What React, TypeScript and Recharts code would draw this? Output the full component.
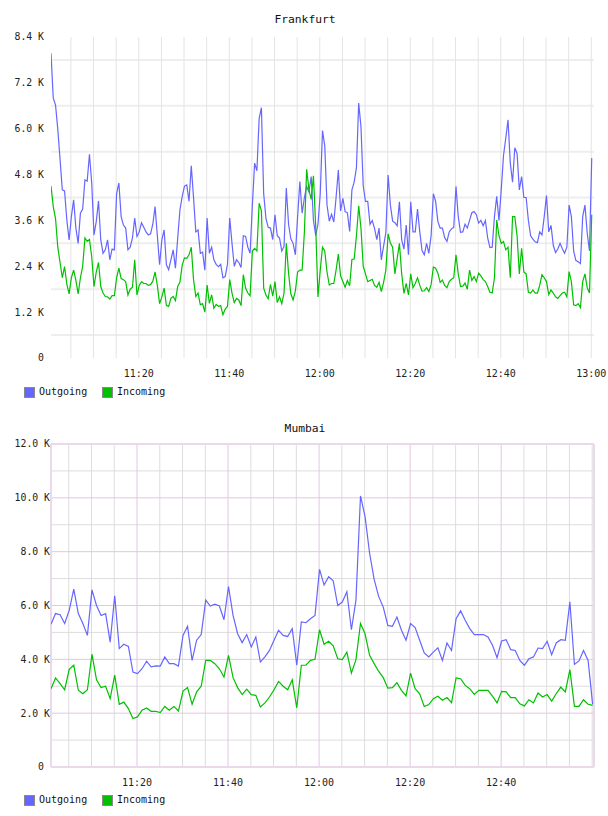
import { LineChart, Line, XAxis, YAxis, CartesianGrid, Legend } from "recharts";

const FONT = '"DejaVu Sans Mono", monospace';
const OUT_COLOR = "#6666ff";
const IN_COLOR = "#00c000";

// minutes after 11:00
const FRA_START = 0.6;
const FRA_STEP = 0.5;

const FRA_OUT = [
  7975, 6800, 6620, 5990, 5200, 4400, 4370, 3610, 3090, 3700,
  4140, 3400, 3000, 3790, 3900, 4660, 4630, 5330, 4580, 3220,
  3570, 4110, 3090, 2740, 2830, 3090, 2570, 2850, 2830, 4300,
  4580, 3700, 3480, 3400, 2830, 2900, 3140, 3660, 3180, 3300,
  3540, 3420, 3300, 3220, 3250, 3500, 3960, 3200, 2440, 3090,
  3350, 2440, 2310, 2570, 2830, 2350, 3140, 3880, 4230, 4500,
  4530, 4100, 5030, 4200, 3300, 3350, 2740, 2770, 2300, 3660,
  2740, 2900, 2570, 2450, 2390, 2450, 2100, 2130, 2450, 3660,
  3000, 2400, 2570, 2500, 2370, 3200, 3180, 2900, 2740, 4000,
  5100, 4900, 6270, 6550, 4300, 3650, 3420, 3400, 3100, 3750,
  3200, 3140, 2800, 2920, 4450, 3500, 3120, 3000, 2700, 3700,
  4620, 3790, 4200, 4490, 4350, 4750, 3600, 3200, 3500, 4300,
  5950, 5550, 4000, 3580, 3760, 3560, 4200, 4920, 3850, 4180,
  3830, 3800, 3310, 4400, 4600, 4980, 6670, 6060, 4500, 4100,
  4100, 3500, 3600, 3390, 3100, 3400, 2570, 2930, 3280, 4790,
  4000, 3580, 3540, 3460, 4090, 3090, 2850, 3480, 2700, 4090,
  3300, 3300, 3900, 3300, 2810, 2700, 3000, 2740, 3200, 4300,
  4100, 3570, 3400, 3400, 3150, 3050, 3300, 3380, 3420, 4490,
  3700, 3290, 3300, 3500, 3400, 3600, 3800, 3830, 3750, 3530,
  3600, 3460, 3600, 3140, 2890, 2900, 3700, 4230, 3600, 4400,
  5300, 5750, 6230, 5100, 4600, 5500, 5350, 4400, 4750, 4200,
  4200, 3600, 3200, 3110, 3040, 3020, 3300, 3220, 3700, 4250,
  3300, 3470, 2950, 2760, 2850, 3000, 2860, 2740, 2900, 4000,
  3700, 2800, 2550, 2520, 2470, 3700, 4000, 3270, 2800, 5230,
];

const FRA_IN = [
  4500, 3960, 3650, 2900, 2500, 2100, 2390, 1930, 1680, 2100,
  2300, 2030, 1680, 2100, 2400, 3140, 3050, 3100, 2650, 1870,
  2250, 2500, 1870, 1700, 1610, 1600, 1540, 1630, 1630, 2100,
  2350, 2080, 2050, 2000, 1650, 1800, 1850, 2570, 1650, 1900,
  2000, 1950, 1950, 1900, 1920, 2010, 2250, 1900, 1420, 1600,
  1830, 1370, 1350, 1560, 1610, 1500, 1870, 1990, 2430, 2620,
  2610, 2700, 2900, 2050, 1610, 1700, 1390, 1420, 1200, 1910,
  1430, 1650, 1300, 1400, 1350, 1370, 1130, 1280, 1350, 2050,
  1700, 1450, 1560, 1520, 1370, 2180, 1830, 1700, 1630, 2800,
  2870, 2800, 4050, 3850, 1830, 1650, 1550, 1930, 1620, 2000,
  1450, 1600, 1420, 1700, 3000, 2220, 1680, 1520, 1750, 2250,
  2300, 2300, 3300, 4940, 4400, 4150, 4770, 3440, 1600, 2300,
  2900, 2800, 2250, 1910, 1950, 1950, 2300, 2720, 2150, 2000,
  1850, 2030, 1890, 2580, 2590, 3200, 3980, 3400, 2400, 2200,
  2000, 2030, 2060, 1900, 1850, 1980, 1740, 1980, 2300, 3250,
  3010, 2900, 2200, 2600, 3000, 2200, 1690, 1950, 1650, 2200,
  1840, 1950, 2100, 1900, 1750, 1760, 1840, 1740, 1920, 2380,
  2350, 2220, 1980, 2040, 1900, 1840, 2000, 2060, 2100, 2700,
  2200, 1870, 1880, 1960, 1800, 2300, 2030, 2130, 2000, 2220,
  2150, 2050, 2000, 1870, 1720, 1700, 2100, 3610, 3200, 3000,
  3050, 2830, 2900, 2100, 3700, 3700, 3200, 2200, 2870, 2250,
  2200, 1720, 1700, 1780, 1700, 1700, 1900, 2180, 2100, 2000,
  1660, 1780, 1700, 1600, 1560, 1630, 1700, 1720, 1600, 2260,
  2000, 1390, 1370, 1420, 1320, 2000, 2200, 1840, 1700, 3750,
];

const MUM_START = 1.1;
const MUM_STEP = 1;

const MUM_OUT = [
  5300, 5700, 5660, 5330, 5820, 6610, 5700, 5330, 4890, 6580,
  6000, 5630, 5700, 4640, 6360, 4400, 4560, 4480, 3530, 3470,
  3650, 3930, 3720, 3760, 3750, 4090, 3840, 3840, 3750, 4890,
  5230, 3960, 4710, 4920, 6200, 5980, 6050, 5980, 5470, 6700,
  5630, 4950, 4620, 4920, 4460, 4830, 3900, 4090, 4330, 4710,
  5080, 4890, 4850, 5140, 3780, 5390, 5360, 5510, 5630, 7340,
  6760, 7070, 6920, 6000, 6130, 6510, 5100, 6200, 10070, 9300,
  7940, 6970, 6330, 5940, 5260, 5230, 5570, 5080, 4710, 5330,
  5180, 4710, 4240, 4090, 4270, 4430, 3960, 4610, 4330, 5510,
  5800, 5450, 5140, 4920, 4920, 4920, 4830, 4520, 4060, 4680,
  4730, 4360, 4330, 3960, 3780, 4020, 4090, 4420, 4400, 4670,
  4170, 4610, 4730, 4710, 6140, 3810, 3940, 4330, 3960, 2330,
];

const MUM_IN = [
  2910, 3310, 3100, 2870, 3630, 3780, 2850, 2720, 2870, 4190,
  3240, 2950, 3000, 2540, 3410, 2330, 2410, 2170, 1800, 1860,
  2110, 2190, 2070, 2070, 2020, 2250, 2110, 2250, 2080, 2820,
  2950, 2330, 2790, 3000, 3960, 3960, 3840, 3650, 3340, 4150,
  3320, 2950, 2690, 2890, 2690, 2660, 2230, 2380, 2600, 2870,
  3180, 3000, 2870, 3240, 2200, 3780, 3780, 3960, 4000, 5100,
  4560, 4670, 4500, 4020, 3990, 4270, 3490, 3990, 5330, 4950,
  4150, 3840, 3550, 3320, 2930, 2950, 3130, 2850, 2640, 3490,
  2910, 2720, 2250, 2320, 2540, 2630, 2480, 2580, 2390, 3310,
  3280, 3030, 2910, 2700, 2850, 2850, 2850, 2630, 2380, 2810,
  2790, 2580, 2580, 2350, 2270, 2500, 2380, 2750, 2600, 2690,
  2450, 2720, 2970, 2790, 3620, 2250, 2250, 2500, 2330, 2290,
];

const FRA_Y_TICKS = [0, 1200, 2400, 3600, 4800, 6000, 7200, 8400];
const FRA_X_TICKS = [20, 40, 60, 80, 100, 120];
const FRA_H_GRID = [600, 1800, 3000, 4200, 5400, 6600, 7800];
const FRA_V_GRID = [
  5, 10, 15, 20, 25, 30, 35, 40, 45, 50, 55, 60,
  65, 70, 75, 80, 85, 90, 95, 100, 105, 110, 115, 120,
];

const MUM_Y_TICKS = [0, 2000, 4000, 6000, 8000, 10000, 12000];
const MUM_X_TICKS = [20, 40, 60, 80, 100];
const MUM_H_MINOR = [1000, 3000, 5000, 7000, 9000, 11000];
const MUM_H_MAJOR = [2000, 4000, 6000, 8000, 10000];
const MUM_V_MINOR = [
  5, 10, 15, 25, 30, 35, 45, 50, 55, 65, 70, 75,
  85, 90, 95, 105, 110, 115, 120,
];
const MUM_V_MAJOR = [20, 40, 60, 80, 100];

const SERIES = [
  { key: "out", name: "Outgoing", color: OUT_COLOR },
  { key: "inc", name: "Incoming", color: IN_COLOR },
];

type Row = { minute: number; out: number; inc: number };

const buildRows = (start: number, step: number, out: number[], inc: number[]): Row[] =>
  out.map((v, i) => ({ minute: start + i * step, out: v, inc: inc[i] }));

const FRA_ROWS = buildRows(FRA_START, FRA_STEP, FRA_OUT, FRA_IN);
const MUM_ROWS = buildRows(MUM_START, MUM_STEP, MUM_OUT, MUM_IN);

const clock = (m: number) => {
  const h = 11 + Math.floor(m / 60);
  const mm = Math.round(m % 60);
  return `${h}:${mm < 10 ? "0" : ""}${mm}`;
};

const kilo = (v: number) => (v === 0 ? "0" : `${(v / 1000).toFixed(1)} K`);

// inset(v): distance from the plot edge to the end of the label
const yTick = (inset: (v: number) => number) => (props: any) => {
  const { x, y, payload } = props;
  return (
    <text
      x={x - inset(payload.value)}
      y={y}
      dy="0.35em"
      textAnchor="end"
      fontFamily={FONT}
      fontSize={9.8}
      fill="#222"
    >
      {kilo(payload.value)}
    </text>
  );
};

const xTick = (props: any) => {
  const { x, y, payload } = props;
  return (
    <text x={x} y={y + 15} dy="0.35em" textAnchor="middle" fontFamily={FONT} fontSize={10} fill="#222">
      {clock(payload.value)}
    </text>
  );
};

function LegendRow() {
  const spots = [24, 102];
  return (
    <div style={{ position: "relative", width: 608, height: 12, fontFamily: FONT, fontSize: 10, color: "#111" }}>
      {SERIES.map((s, i) => (
        <div key={s.key}>
          <span
            style={{
              position: "absolute",
              left: spots[i],
              top: 0,
              width: 9,
              height: 9,
              background: s.color,
              border: "1px solid #8a8a8a",
            }}
          />
          <span style={{ position: "absolute", left: spots[i] + 15, top: -1, lineHeight: "12px" }}>{s.name}</span>
        </div>
      ))}
    </div>
  );
}

function Title({ text, y }: { text: string; y: number }) {
  return (
    <div
      style={{
        position: "absolute",
        left: 1,
        top: y - 7,
        width: 608,
        textAlign: "center",
        fontFamily: FONT,
        fontSize: 11.3,
        lineHeight: "14px",
        color: "#111",
        zIndex: 1,
      }}
    >
      {text}
    </div>
  );
}

function Lines() {
  return SERIES.map((s) => (
    <Line
      key={s.key}
      type="linear"
      dataKey={s.key}
      name={s.name}
      stroke={s.color}
      strokeWidth={1.2}
      dot={false}
      activeDot={false}
      isAnimationActive={false}
    />
  ));
}

function Frankfurt() {
  return (
    <div style={{ position: "absolute", left: 0, top: 0, width: 608, height: 405 }}>
      <Title text="Frankfurt" y={20} />
      <LineChart width={608} height={405} data={FRA_ROWS} margin={{ top: 37, right: 14, bottom: 27, left: 0 }}>
        <CartesianGrid vertical={false} horizontalValues={FRA_H_GRID} stroke="#eeeeee" strokeWidth={2} />
        <CartesianGrid horizontal={false} verticalValues={FRA_V_GRID} stroke="#e4e4e4" />
        <XAxis
          type="number"
          dataKey="minute"
          domain={[0.6, 120.6]}
          ticks={FRA_X_TICKS}
          interval={0}
          allowDataOverflow
          height={20}
          axisLine={false}
          tickLine={false}
          tickSize={0}
          tickMargin={0}
          tick={xTick}
        />
        <YAxis
          type="number"
          domain={[0, 8400]}
          ticks={FRA_Y_TICKS}
          interval={0}
          width={51}
          axisLine={false}
          tickLine={false}
          tickSize={0}
          tickMargin={0}
          tick={yTick(() => 7)}
        />
        {Lines()}
        <Legend
          verticalAlign="middle"
          align="center"
          layout="horizontal"
          wrapperStyle={{ left: 0, top: 387, width: 608, height: 12 }}
          content={() => <LegendRow />}
        />
      </LineChart>
    </div>
  );
}

function Mumbai() {
  return (
    <div style={{ position: "absolute", left: 0, top: 410, width: 608, height: 406 }}>
      <Title text="Mumbai" y={19} />
      <LineChart width={608} height={406} data={MUM_ROWS} margin={{ top: 34, right: 14, bottom: 29, left: 0 }}>
        <CartesianGrid
          horizontalValues={MUM_H_MINOR}
          verticalValues={MUM_V_MINOR}
          stroke="#dddddd"
        />
        <CartesianGrid
          horizontalValues={MUM_H_MAJOR}
          verticalValues={MUM_V_MAJOR}
          stroke="#e2c6e2"
        />
        <CartesianGrid
          horizontalValues={[0, 12000]}
          verticalValues={[1.1, 120.4]}
          stroke="#ecd8ec"
          strokeWidth={2}
        />
        <XAxis
          type="number"
          dataKey="minute"
          domain={[1.1, 120.4]}
          ticks={MUM_X_TICKS}
          interval={0}
          allowDataOverflow
          height={20}
          axisLine={false}
          tickLine={false}
          tickSize={0}
          tickMargin={0}
          tick={xTick}
        />
        <YAxis
          type="number"
          domain={[0, 12000]}
          ticks={MUM_Y_TICKS}
          interval={0}
          width={51}
          axisLine={false}
          tickLine={false}
          tickSize={0}
          tickMargin={0}
          tick={yTick((v) => (v === 0 ? 7 : 1))}
        />
        {Lines()}
        <Legend
          verticalAlign="middle"
          align="center"
          layout="horizontal"
          wrapperStyle={{ left: 0, top: 385, width: 608, height: 12 }}
          content={() => <LegendRow />}
        />
      </LineChart>
    </div>
  );
}

export default function App() {
  return (
    <div style={{ position: "absolute", left: 0, top: 0, width: 608, height: 816, background: "#fff" }}>
      <Frankfurt />
      <Mumbai />
    </div>
  );
}
